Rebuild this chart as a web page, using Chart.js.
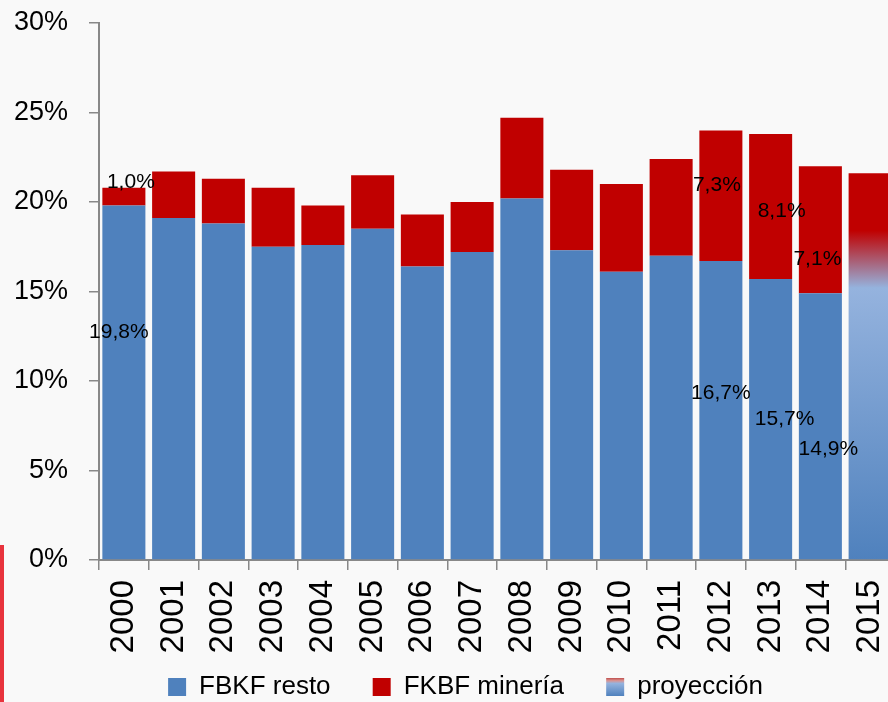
<!DOCTYPE html>
<html>
<head>
<meta charset="utf-8">
<script src="https://cdn.jsdelivr.net/npm/chart.js@4"></script>
<style>
  html, body { margin: 0; padding: 0; overflow: hidden; background: #f9f9f9; }
  #wrap { position: relative; width: 888px; height: 702px; overflow: hidden; }
  #fbkfChart { display: block; }
  #marca { position: absolute; left: 0; top: 545px; width: 4px; height: 157px; background: #e8333d; }
</style>
</head>
<body>
<div id="wrap">
  <canvas id="fbkfChart" width="930" height="710"></canvas>
  <div id="marca"></div>
</div>
<script>
// Inversión (FBKF) como % del PIB
const years = ['2000', '2001', '2002', '2003', '2004', '2005', '2006', '2007',
  '2008', '2009', '2010', '2011', '2012', '2013', '2014', '2015'];
const fbkfResto = [19.8, 19.1, 18.8, 17.5, 17.6, 18.5, 16.4, 17.2, 20.2, 17.3, 16.1, 17.0, 16.7, 15.7, 14.9, null];
const fkbfMineria = [1.0, 2.6, 2.5, 3.3, 2.2, 3.0, 2.9, 2.8, 4.5, 4.5, 4.9, 5.4, 7.3, 8.1, 7.1, null];
const proyeccion = [null, null, null, null, null, null, null, null, null, null, null, null, null, null, null, 21.6];
const labeledYears = ['2000', '2012', '2013', '2014'];
const yTickValues = [0, 5, 10, 15, 20, 25, 30];

const blue = '#4f81bd';
const red = '#c00000';
const fontFamily = '"Liberation Sans", Arial, sans-serif';

// where the projected bar fades from red to blue
const projRedUntil = 18.4;
const projBlueFrom = 15.2;
const legendShift = 18;

// labels were dragged around a bit in the original: [resto, minería] offsets in px
const labelNudge = {
  '2000': [[-5, -50], [7, -14]],
  '2012': [[0, -17], [-4, -11]],
  '2013': [[14, 0], [11, 5]],
  '2014': [[8, 23], [-3, 29]]
};

function pct(v) {
  return v.toFixed(1).replace('.', ',') + '%';
}

function projectionFill(context) {
  const chart = context.chart;
  if (!chart.chartArea) return blue;
  const y = chart.scales.y;
  const total = proyeccion[proyeccion.length - 1];
  const g = chart.ctx.createLinearGradient(0, y.getPixelForValue(total), 0, y.getPixelForValue(0));
  const s1 = (total - projRedUntil) / total;
  const s2 = (total - projBlueFrom) / total;
  g.addColorStop(0, red);
  g.addColorStop(s1, red);
  g.addColorStop(s2, '#95b3de');
  g.addColorStop(1, blue);
  return g;
}

const extras = {
  id: 'extras',
  afterLayout(chart) {
    chart.legend.left += legendShift;
    chart.legend.right += legendShift;
  },
  beforeDraw(chart) {
    const item = chart.legend.legendItems[2];
    const box = chart.legend.legendHitBoxes[2];
    if (item && box) {
      const top = box.top + (box.height - 18) / 2;
      const g = chart.ctx.createLinearGradient(0, top, 0, top + 18);
      g.addColorStop(0, '#c0504d');
      g.addColorStop(0.15, '#d99594');
      g.addColorStop(0.3, '#95b3de');
      g.addColorStop(1, blue);
      item.fillStyle = g;
    }
  },
  afterDatasetsDraw(chart) {
    const ctx = chart.ctx;
    ctx.save();
    ctx.font = '21px ' + fontFamily;
    ctx.fillStyle = '#000';
    ctx.textAlign = 'center';
    ctx.textBaseline = 'middle';
    [0, 1].forEach(di => {
      const meta = chart.getDatasetMeta(di);
      meta.data.forEach((bar, i) => {
        const v = chart.data.datasets[di].data[i];
        if (v == null || !labeledYears.includes(years[i])) return;
        const nudge = (labelNudge[years[i]] || [])[di] || [0, 0];
        ctx.fillText(pct(v), bar.x + nudge[0], (bar.y + bar.base) / 2 + nudge[1]);
      });
    });
    ctx.restore();
  }
};

const ctx = document.getElementById('fbkfChart').getContext('2d');
const fbkfChart = new Chart(ctx, {
  type: 'bar',
  data: {
    labels: years,
    datasets: [
      { label: 'FBKF resto', data: fbkfResto, backgroundColor: blue },
      { label: 'FKBF minería', data: fkbfMineria, backgroundColor: red },
      { label: 'proyección', data: proyeccion, backgroundColor: projectionFill }
    ]
  },
  options: {
    responsive: false,
    animation: false,
    datasets: {
      bar: { barPercentage: 0.865, categoryPercentage: 1, borderWidth: 0 }
    },
    layout: { padding: { top: 23, right: 35, left: 0, bottom: 0 } },
    plugins: {
      tooltip: { enabled: false },
      legend: {
        position: 'bottom',
        labels: {
          font: { family: fontFamily, size: 26 },
          color: '#000',
          boxWidth: 18,
          boxHeight: 18,
          padding: 6,
          generateLabels(chart) {
            const items = Chart.defaults.plugins.legend.labels.generateLabels(chart);
            items.forEach((it, i) => {
              it.lineWidth = 0;
              if (i < items.length - 1) it.text += '     ';
            });
            return items;
          }
        }
      }
    },
    scales: {
      x: {
        stacked: true,
        grid: { display: true, drawOnChartArea: false, tickLength: 10, color: '#888', lineWidth: 1.5 },
        border: { display: true, color: '#888', width: 2 },
        ticks: {
          autoSkip: false,
          minRotation: 90,
          maxRotation: 90,
          padding: 10,
          color: '#000',
          font: { family: fontFamily, size: 33 }
        },
        afterFit(scale) {
          scale.height = 108;
          scale.paddingLeft = 0;
          scale.paddingRight = 0;
        }
      },
      y: {
        stacked: true,
        min: 0,
        max: 30,
        afterBuildTicks(scale) { scale.ticks = yTickValues.map(v => ({ value: v })); },
        grid: { display: true, drawOnChartArea: false, tickLength: 10, color: '#888', lineWidth: 1.5 },
        border: { display: true, color: '#888', width: 2 },
        ticks: {
          padding: 21,
          color: '#000',
          font: { family: fontFamily, size: 27 },
          callback: v => v + '%'
        },
        afterFit(scale) {
          scale.width = 99;
          scale.paddingTop = 0;
          scale.paddingBottom = 0;
        }
      }
    }
  },
  plugins: [extras]
});
</script>
</body>
</html>
